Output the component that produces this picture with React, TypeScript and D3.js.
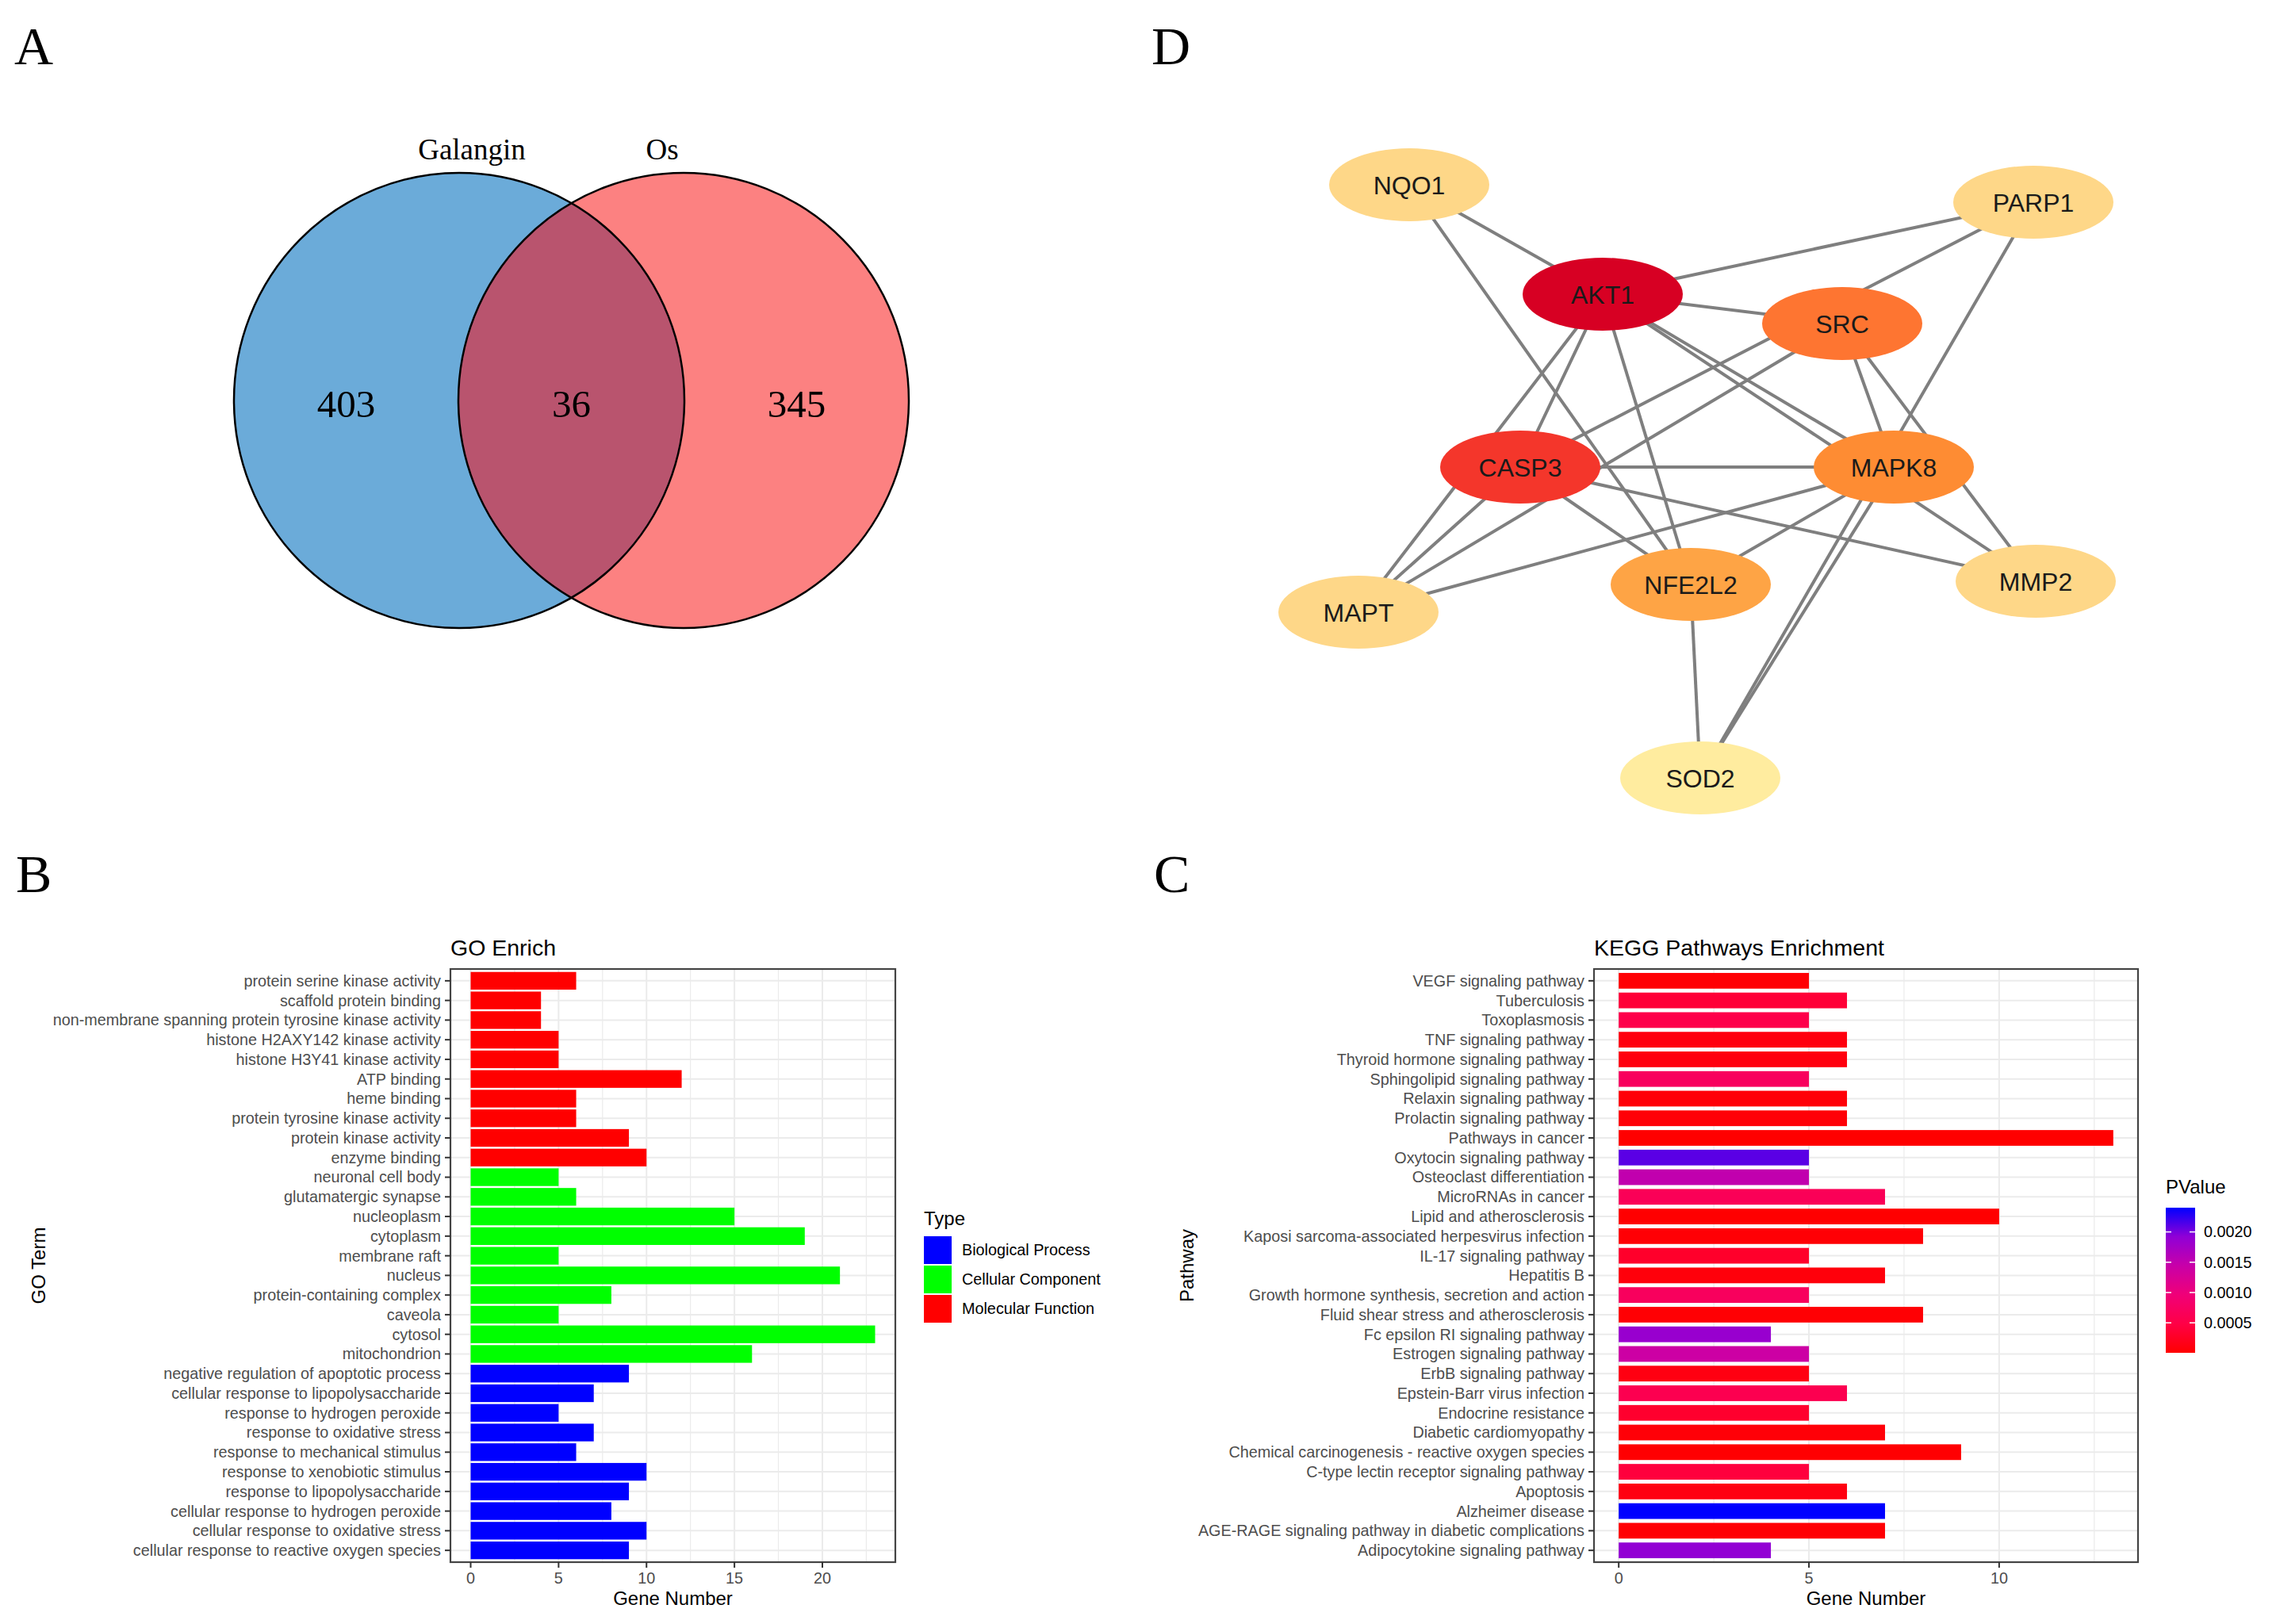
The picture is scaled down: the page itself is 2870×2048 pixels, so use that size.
import React from "react";
import * as d3 from "d3";

// ---------------- DATA ----------------
const vennSetNames = ["Galangin", "Os"];
const vennRegionCounts = [403, 36, 345];

const netNodes = ["NQO1", "PARP1", "AKT1", "SRC", "CASP3", "MAPK8", "NFE2L2", "MAPT", "MMP2", "SOD2"];
// layout units (Cytoscape-like coordinates)
const netLayoutX = [77, 864, 321, 623, 217, 688, 432, 13, 867, 444];
const netLayoutY = [33, 55, 171, 208, 389, 389, 537, 572, 533, 781];
const netNodeScore = [4, 4, 10, 8, 9, 7, 6, 4, 4, 2];
const netEdges: [string, string][] = [
  ["NQO1", "AKT1"], ["NQO1", "NFE2L2"],
  ["PARP1", "AKT1"], ["PARP1", "CASP3"], ["PARP1", "SOD2"],
  ["AKT1", "SRC"], ["AKT1", "CASP3"], ["AKT1", "MAPT"], ["AKT1", "NFE2L2"], ["AKT1", "MAPK8"], ["AKT1", "MMP2"],
  ["SRC", "MAPT"], ["SRC", "MAPK8"], ["SRC", "MMP2"],
  ["CASP3", "MAPK8"], ["CASP3", "NFE2L2"], ["CASP3", "MMP2"], ["CASP3", "MAPT"],
  ["MAPK8", "MAPT"], ["MAPK8", "NFE2L2"], ["MAPK8", "SOD2"],
  ["NFE2L2", "SOD2"],
];

const goTerms = [
  "protein serine kinase activity", "scaffold protein binding", "non-membrane spanning protein tyrosine kinase activity",
  "histone H2AXY142 kinase activity", "histone H3Y41 kinase activity", "ATP binding", "heme binding",
  "protein tyrosine kinase activity", "protein kinase activity", "enzyme binding",
  "neuronal cell body", "glutamatergic synapse", "nucleoplasm", "cytoplasm", "membrane raft", "nucleus",
  "protein-containing complex", "caveola", "cytosol", "mitochondrion",
  "negative regulation of apoptotic process", "cellular response to lipopolysaccharide", "response to hydrogen peroxide",
  "response to oxidative stress", "response to mechanical stimulus", "response to xenobiotic stimulus",
  "response to lipopolysaccharide", "cellular response to hydrogen peroxide", "cellular response to oxidative stress",
  "cellular response to reactive oxygen species",
];
const goCounts = [6, 4, 4, 5, 5, 12, 6, 6, 9, 10, 5, 6, 15, 19, 5, 21, 8, 5, 23, 16, 9, 7, 5, 7, 6, 10, 9, 8, 10, 9];
const goTypes = [
  "MF", "MF", "MF", "MF", "MF", "MF", "MF", "MF", "MF", "MF",
  "CC", "CC", "CC", "CC", "CC", "CC", "CC", "CC", "CC", "CC",
  "BP", "BP", "BP", "BP", "BP", "BP", "BP", "BP", "BP", "BP",
];
const goTypeKeys = ["BP", "CC", "MF"];
const goTypeNames = ["Biological Process", "Cellular Component", "Molecular Function"];
const goTicks = [0, 5, 10, 15, 20];

const keggPathways = [
  "VEGF signaling pathway", "Tuberculosis", "Toxoplasmosis", "TNF signaling pathway",
  "Thyroid hormone signaling pathway", "Sphingolipid signaling pathway", "Relaxin signaling pathway",
  "Prolactin signaling pathway", "Pathways in cancer", "Oxytocin signaling pathway", "Osteoclast differentiation",
  "MicroRNAs in cancer", "Lipid and atherosclerosis", "Kaposi sarcoma-associated herpesvirus infection",
  "IL-17 signaling pathway", "Hepatitis B", "Growth hormone synthesis, secretion and action",
  "Fluid shear stress and atherosclerosis", "Fc epsilon RI signaling pathway", "Estrogen signaling pathway",
  "ErbB signaling pathway", "Epstein-Barr virus infection", "Endocrine resistance", "Diabetic cardiomyopathy",
  "Chemical carcinogenesis - reactive oxygen species", "C-type lectin receptor signaling pathway", "Apoptosis",
  "Alzheimer disease", "AGE-RAGE signaling pathway in diabetic complications", "Adipocytokine signaling pathway",
];
const keggCounts = [5, 6, 5, 6, 6, 5, 6, 6, 13, 5, 5, 7, 10, 8, 5, 7, 5, 8, 4, 5, 5, 6, 5, 7, 9, 5, 6, 7, 7, 4];
const keggPValues = [
  0.00003, 0.00038, 0.00052, 0.0001, 0.0001, 0.0007, 0.00006, 0.00005, 0.000005, 0.0021,
  0.0015, 0.00065, 0.00001, 0.00004, 0.0003, 0.00008, 0.0007, 0.00003, 0.00185, 0.0014,
  0.00012, 0.00058, 0.00032, 0.00006, 0.00002, 0.00042, 0.00012, 0.0024, 0.00003, 0.0019,
];
const keggTicks = [0, 5, 10];
const pValueTicks = [0.0005, 0.001, 0.0015, 0.002];

// ---------------- STYLE ----------------
const SANS = "'Liberation Sans', Arial, Helvetica, sans-serif";
const SERIF = "'Liberation Serif', 'Times New Roman', Times, serif";
const AXIS_TEXT = "#4D4D4D";
const GRID = "#EBEBEB";
const P_RAMP = ["#FF0000", "#FF0046", "#F00078", "#C800A8", "#9000D6", "#0000FF"];

type PanelProps = {
  cats: string[];
  vals: number[];
  fill: (i: number) => string;
  left: number; right: number; top: number; bottom: number;
  ticks: number[];
  barFrac: number;
  title: string;
  yTitle: string;
  yTitleX: number;
};

function BarPanel(p: PanelProps) {
  const vmax = d3.max(p.vals) as number;
  const pad = vmax * 0.05;
  const x = d3.scaleLinear().domain([-pad, vmax + pad]).range([p.left, p.right]);
  const y = d3.scalePoint<string>().domain(p.cats).range([p.top, p.bottom]).padding(0.6);
  const bh = y.step() * p.barFrac;
  const stepT = p.ticks[1] - p.ticks[0];
  const minor = d3.range(p.ticks[0] + stepT / 2, vmax + pad, stepT);
  const cx = (p.left + p.right) / 2;
  const cy = (p.top + p.bottom) / 2;
  return (
    <g>
      <rect x={p.left} y={p.top} width={p.right - p.left} height={p.bottom - p.top} fill="#fff" />
      {minor.map((t) => (
        <line key={"mi" + t} x1={x(t)} x2={x(t)} y1={p.top} y2={p.bottom} stroke={GRID} strokeWidth={1.2} />
      ))}
      {p.ticks.map((t) => (
        <line key={"ma" + t} x1={x(t)} x2={x(t)} y1={p.top} y2={p.bottom} stroke={GRID} strokeWidth={2} />
      ))}
      {p.cats.map((c) => (
        <line key={"hg" + c} x1={p.left} x2={p.right} y1={y(c)} y2={y(c)} stroke={GRID} strokeWidth={2} />
      ))}
      {p.cats.map((c, i) => (
        <rect
          key={"b" + c}
          x={x(0)}
          y={(y(c) as number) - bh / 2}
          width={x(p.vals[i]) - x(0)}
          height={bh}
          fill={p.fill(i)}
        />
      ))}
      <rect x={p.left} y={p.top} width={p.right - p.left} height={p.bottom - p.top} fill="none" stroke="#444" strokeWidth={2.2} />
      {p.cats.map((c) => (
        <g key={"yt" + c}>
          <line x1={p.left - 7} x2={p.left} y1={y(c)} y2={y(c)} stroke="#333" strokeWidth={2} />
          <text x={p.left - 12} y={y(c)} dy="0.35em" textAnchor="end" fontFamily={SANS} fontSize={19.8} fill={AXIS_TEXT}>
            {c}
          </text>
        </g>
      ))}
      {p.ticks.map((t) => (
        <g key={"xt" + t}>
          <line x1={x(t)} x2={x(t)} y1={p.bottom} y2={p.bottom + 7} stroke="#333" strokeWidth={2} />
          <text x={x(t)} y={p.bottom + 27} textAnchor="middle" fontFamily={SANS} fontSize={19.8} fill={AXIS_TEXT}>
            {t}
          </text>
        </g>
      ))}
      <text x={cx} y={p.bottom + 54} textAnchor="middle" fontFamily={SANS} fontSize={24} fill="#000">
        Gene Number
      </text>
      <text
        x={p.yTitleX}
        y={cy}
        textAnchor="middle"
        fontFamily={SANS}
        fontSize={24}
        fill="#000"
        transform={`rotate(-90, ${p.yTitleX}, ${cy})`}
      >
        {p.yTitle}
      </text>
      <text x={p.left} y={p.top - 17} fontFamily={SANS} fontSize={28.5} fill="#000">
        {p.title}
      </text>
    </g>
  );
}

export default function App() {
  const W = 2870;
  const H = 2048;

  // ---- Venn ----
  const vennX = d3.scaleLinear().domain([0, 1]).range([579, 862]);
  const vcy = 505;
  const vrx = 284;
  const vry = 287;
  const vLeftX = vennX(0);
  const vRightX = vennX(1);
  const regionX = [
    (vLeftX - vrx + vRightX - vrx) / 2,
    (vRightX - vrx + vLeftX + vrx) / 2,
    (vLeftX + vrx + vRightX + vrx) / 2,
  ];

  // ---- Network ----
  const nx = d3.scaleLinear().domain([0, 1000]).range([1700, 2700]);
  const ny = d3.scaleLinear().domain([0, 1000]).range([200, 1200]);
  const nodeIndex = new Map(netNodes.map((n, i) => [n, i]));
  const nodeColor = d3
    .scaleOrdinal<number, string>()
    .domain([2, 4, 6, 7, 8, 9, 10])
    .range(["#FFEC9F", "#FED788", "#FEA445", "#FE8C33", "#FE7531", "#F4362B", "#D70023"]);

  // ---- GO ----
  const goColor = d3.scaleOrdinal<string, string>().domain(goTypeKeys).range(["#0000FF", "#00FF00", "#FF0000"]);

  // ---- KEGG ----
  const pExtent = d3.extent(keggPValues) as [number, number];
  const rampDomain = P_RAMP.map((_, i) => pExtent[0] + (i / (P_RAMP.length - 1)) * (pExtent[1] - pExtent[0]));
  const pColor = d3.scaleLinear<string>().domain(rampDomain).range(P_RAMP).interpolate(d3.interpolateRgb);
  const cbTop = 1523;
  const cbBottom = 1706;
  const cbLeft = 2731;
  const cbW = 37;
  const cbY = d3.scaleLinear().domain(pExtent).range([cbBottom, cbTop]);
  const gradStops = d3.range(0, 1.0001, 0.05);

  return (
    <>
      <style>{`html,body{margin:0;padding:0;background:#fff;}`}</style>
      <svg width={W} height={H} viewBox={`0 0 ${W} ${H}`} style={{ display: "block", background: "#fff" }}>
        <defs>
          <clipPath id="vennLeftClip">
            <ellipse cx={vLeftX} cy={vcy} rx={vrx} ry={vry} />
          </clipPath>
          <linearGradient id="pGrad" x1="0" y1="1" x2="0" y2="0">
            {gradStops.map((t) => (
              <stop
                key={t}
                offset={`${t * 100}%`}
                stopColor={pColor(pExtent[0] + t * (pExtent[1] - pExtent[0]))}
              />
            ))}
          </linearGradient>
        </defs>

        {/* Panel letters */}
        <text x={18} y={81} fontFamily={SERIF} fontSize={68} fill="#000">A</text>
        <text x={1452} y={81} fontFamily={SERIF} fontSize={68} fill="#000">D</text>
        <text x={20} y={1125} fontFamily={SERIF} fontSize={68} fill="#000">B</text>
        <text x={1455} y={1125} fontFamily={SERIF} fontSize={68} fill="#000">C</text>

        {/* ---------- Venn ---------- */}
        <ellipse cx={vLeftX} cy={vcy} rx={vrx} ry={vry} fill="#6BABD9" />
        <ellipse cx={vRightX} cy={vcy} rx={vrx} ry={vry} fill="#FC8181" />
        <ellipse cx={vRightX} cy={vcy} rx={vrx} ry={vry} fill="#B9546E" clipPath="url(#vennLeftClip)" />
        <ellipse cx={vLeftX} cy={vcy} rx={vrx} ry={vry} fill="none" stroke="#000" strokeWidth={2.5} />
        <ellipse cx={vRightX} cy={vcy} rx={vrx} ry={vry} fill="none" stroke="#000" strokeWidth={2.5} />
        <text x={vLeftX + 16} y={201} textAnchor="middle" fontFamily={SERIF} fontSize={37} fill="#000">
          {vennSetNames[0]}
        </text>
        <text x={vRightX - 27} y={201} textAnchor="middle" fontFamily={SERIF} fontSize={37} fill="#000">
          {vennSetNames[1]}
        </text>
        {vennRegionCounts.map((c, i) => (
          <text key={"vc" + i} x={regionX[i]} y={526} textAnchor="middle" fontFamily={SERIF} fontSize={49} fill="#000">
            {c}
          </text>
        ))}

        {/* ---------- Network ---------- */}
        <g>
          {netEdges.map(([a, b], i) => {
            const ia = nodeIndex.get(a) as number;
            const ib = nodeIndex.get(b) as number;
            return (
              <line
                key={"e" + i}
                x1={nx(netLayoutX[ia])}
                y1={ny(netLayoutY[ia])}
                x2={nx(netLayoutX[ib])}
                y2={ny(netLayoutY[ib])}
                stroke="#7F7F7F"
                strokeWidth={4}
              />
            );
          })}
          {netNodes.map((n, i) => (
            <g key={"n" + n}>
              <ellipse cx={nx(netLayoutX[i])} cy={ny(netLayoutY[i])} rx={101} ry={46} fill={nodeColor(netNodeScore[i])} />
              <text
                x={nx(netLayoutX[i])}
                y={ny(netLayoutY[i])}
                dy="0.36em"
                textAnchor="middle"
                fontFamily={SANS}
                fontSize={32}
                fill="#1A1A1A"
              >
                {n}
              </text>
            </g>
          ))}
        </g>

        {/* ---------- GO bar chart ---------- */}
        <BarPanel
          cats={goTerms}
          vals={goCounts}
          fill={(i) => goColor(goTypes[i])}
          left={568}
          right={1129}
          top={1222}
          bottom={1970}
          ticks={goTicks}
          barFrac={0.9}
          title="GO Enrich"
          yTitle="GO Term"
          yTitleX={57}
        />
        {/* GO legend */}
        <text x={1165} y={1545} fontFamily={SANS} fontSize={24} fill="#000">Type</text>
        {goTypeKeys.map((k, i) => (
          <g key={"lg" + k}>
            <rect x={1165} y={1559 + i * 37} width={35} height={35} fill={goColor(k)} />
            <text x={1213} y={1559 + i * 37 + 17.5} dy="0.35em" fontFamily={SANS} fontSize={19.8} fill="#000">
              {goTypeNames[i]}
            </text>
          </g>
        ))}

        {/* ---------- KEGG bar chart ---------- */}
        <BarPanel
          cats={keggPathways}
          vals={keggCounts}
          fill={(i) => pColor(keggPValues[i])}
          left={2010}
          right={2696}
          top={1222}
          bottom={1970}
          ticks={keggTicks}
          barFrac={0.8}
          title="KEGG Pathways Enrichment"
          yTitle="Pathway"
          yTitleX={1505}
        />
        {/* colorbar legend */}
        <text x={cbLeft} y={1505} fontFamily={SANS} fontSize={24} fill="#000">PValue</text>
        <rect x={cbLeft} y={cbTop} width={cbW} height={cbBottom - cbTop} fill="url(#pGrad)" />
        {pValueTicks.map((t) => (
          <g key={"pt" + t}>
            <line x1={cbLeft} x2={cbLeft + 7} y1={cbY(t)} y2={cbY(t)} stroke="#fff" strokeWidth={1.5} />
            <line x1={cbLeft + cbW - 7} x2={cbLeft + cbW} y1={cbY(t)} y2={cbY(t)} stroke="#fff" strokeWidth={1.5} />
            <text x={cbLeft + 48} y={cbY(t)} dy="0.35em" fontFamily={SANS} fontSize={19.8} fill="#000">
              {d3.format(".4f")(t)}
            </text>
          </g>
        ))}
      </svg>
    </>
  );
}
